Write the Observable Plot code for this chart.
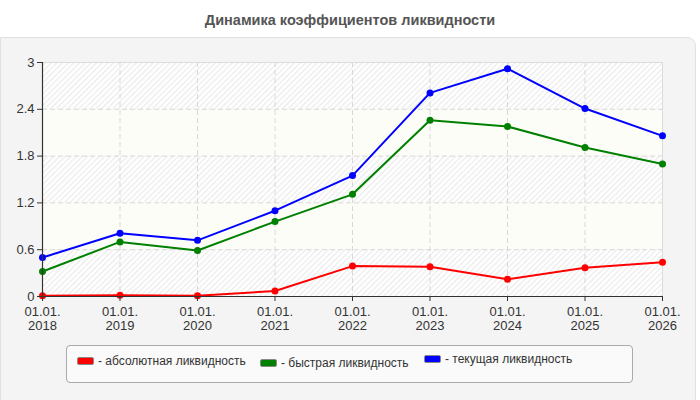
<!DOCTYPE html>
<html>
<head>
<meta charset="utf-8">
<script src="https://cdn.jsdelivr.net/npm/d3@7"></script>
<script src="https://cdn.jsdelivr.net/npm/@observablehq/plot@0.6"></script>
<style>
  body { margin: 0; background: #fff; font-family: "Liberation Sans", Arial, sans-serif; }
  #wrap { position: relative; width: 700px; height: 400px; overflow: hidden; background: #fff; }
  #panel { position: absolute; left: 0; top: 37px; width: 696px; height: 370px; background: #f4f4f4;
           border: 1px solid #e0e0e0; border-top-right-radius: 9px; box-sizing: border-box; }
  #title { position: absolute; left: 0; top: 12px; width: 700px; text-align: center; font-weight: bold;
           font-size: 14.5px; color: #555; }
  #chart { position: absolute; left: 0; top: 0; }
  #legend { position: absolute; left: 66px; top: 345px; width: 567px; height: 38px; box-sizing: border-box;
            border: 1px solid #aaa; border-radius: 4px; background: #fafafa; }
  .item { position: absolute; font-size: 12px; color: #333; white-space: nowrap; line-height: 14px; }
  .sw { display: inline-block; width: 15px; height: 6px; border: 1px solid #888; border-radius: 2px;
        vertical-align: middle; margin-right: 4px; position: relative; top: -1px; }
</style>
</head>
<body>
<div id="wrap">
  <div id="panel"></div>
  <div id="title">Динамика коэффициентов ликвидности</div>
  <div id="chart"></div>
  <div id="legend"></div>
</div>
<script>
const years = [2018, 2019, 2020, 2021, 2022, 2023, 2024, 2025, 2026];
const absoluteLiq = [0.01, 0.015, 0.01, 0.07, 0.39, 0.38, 0.22, 0.37, 0.44];
const quickLiq = [0.32, 0.70, 0.59, 0.96, 1.31, 2.26, 2.18, 1.91, 1.70];
const currentLiq = [0.50, 0.81, 0.72, 1.10, 1.55, 2.61, 2.92, 2.41, 2.06];
const seriesNames = ["абсолютная ликвидность", "быстрая ликвидность", "текущая ликвидность"];
const seriesColors = ["#ff0000", "#008000", "#0000ff"];
const yTicks = [0, 0.6, 1.2, 1.8, 2.4, 3];
const bandFills = ["url(#hatch)", "#fdfdf8", "url(#hatch)", "#fdfdf8", "url(#hatch)"];

const bands = bandFills.map((f, i) => ({ y1: yTicks[i], y2: yTicks[i + 1], fill: f }));
const allSeries = [absoluteLiq, quickLiq, currentLiq];
const rows = allSeries.flatMap((vals, s) => years.map((yr, i) => ({ year: yr, value: vals[i], series: seriesNames[s] })));

const plot = Plot.plot({
  width: 700,
  height: 400,
  marginLeft: 42,
  marginRight: 38,
  marginTop: 62,
  marginBottom: 104,
  style: { background: "transparent", fontFamily: "Liberation Sans, Arial, sans-serif", fontSize: "13px", color: "#333" },
  x: { domain: [years[0], years[years.length - 1]], ticks: years, label: null },
  y: { domain: [0, 3], ticks: yTicks, label: null },
  color: { domain: seriesNames, range: seriesColors },
  marks: [
    Plot.rectY(bands, { x1: years[0], x2: years[years.length - 1], y1: "y1", y2: "y2", fill: d => d.fill }),
    Plot.gridX(years, { stroke: "#d8d8d8", strokeOpacity: 1, strokeDasharray: "5,3" }),
    Plot.gridY(yTicks.slice(1, -1), { stroke: "#d8d8d8", strokeOpacity: 1, strokeDasharray: "5,3" }),
    Plot.frame({ stroke: "#dcdcdc" }),
    Plot.line(rows, { x: "year", y: "value", z: "series", stroke: "series", strokeWidth: 2 }),
    Plot.dot(rows, { x: "year", y: "value", fill: "series", r: 3.5 }),
    Plot.axisY(yTicks, { tickSize: 5, tickPadding: 3, stroke: "#333", fill: "#333", fontSize: 13, tickFormat: d => String(d), label: null }),
    Plot.ruleY([0], { stroke: "#333", strokeWidth: 1.2 }),
    Plot.ruleX([years[0]], { stroke: "#333", strokeWidth: 1.2 }),
    Plot.axisX(years, { tickSize: 5, tickPadding: 4, stroke: "#333", fill: "#333", fontSize: 13, lineHeight: 1.12,
      tickFormat: d => "01.01.\n" + d, label: null })
  ]
});

// hatch pattern definition
const ns = "http://www.w3.org/2000/svg";
const defs = document.createElementNS(ns, "defs");
defs.innerHTML = `<pattern id="hatch" patternUnits="userSpaceOnUse" width="4" height="4" patternTransform="rotate(45)">
  <rect width="4" height="4" fill="#ffffff"/><rect width="1.3" height="4" fill="#ececec"/></pattern>`;
plot.insertBefore(defs, plot.firstChild);
document.getElementById("chart").appendChild(plot);

// legend
const legend = document.getElementById("legend");
const legendPos = [[10, 8], [193, 10], [357, 6]];
seriesNames.forEach((name, i) => {
  const it = document.createElement("div");
  it.className = "item";
  it.style.left = legendPos[i][0] + "px";
  it.style.top = legendPos[i][1] + "px";
  it.innerHTML = `<span class="sw" style="background:${seriesColors[i]}"></span>- ${name}`;
  legend.appendChild(it);
});
</script>
</body>
</html>
